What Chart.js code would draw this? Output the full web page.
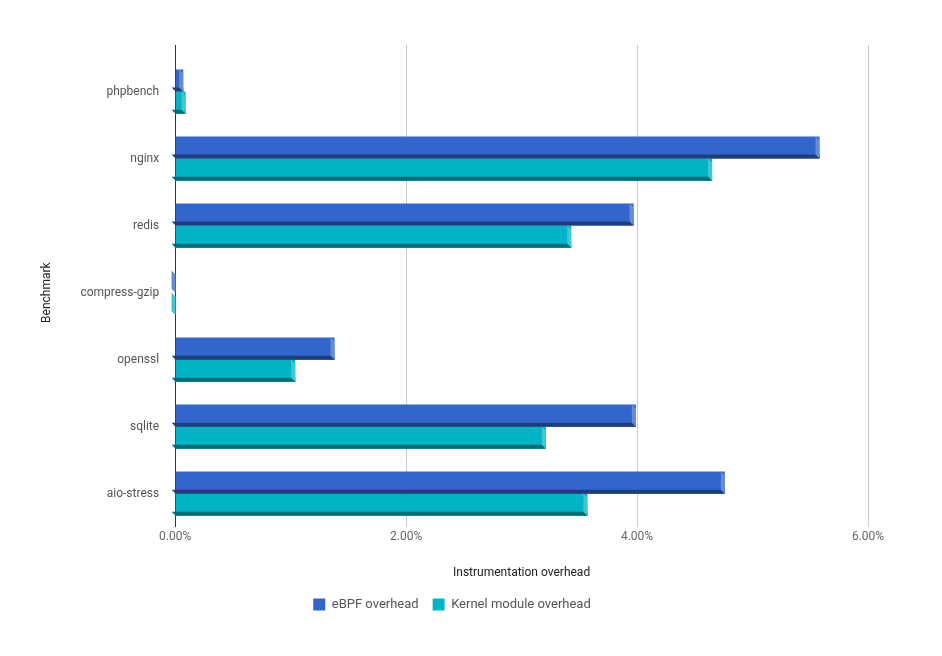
<!DOCTYPE html>
<html><head><meta charset="utf-8">
<script src="https://cdn.jsdelivr.net/npm/chart.js@4/dist/chart.umd.min.js"></script>
<style>html,body{margin:0;background:#fff}#w{width:942px;height:656px}</style>
</head><body><div id="w"><canvas id="c"></canvas></div>
<script>
const categories=["phpbench","nginx","redis","compress-gzip","openssl","sqlite","aio-stress"];
const ebpf=[0.07,5.58,3.97,0.003,1.38,3.99,4.76];
const kmod=[0.09,4.65,3.43,0.003,1.04,3.21,3.57];
const xTicks=[0,2,4,6];
function shade(hex,f){const n=parseInt(hex.slice(1),16);let r=n>>16,g=(n>>8)&255,b=n&255;
 const m=v=>Math.max(0,Math.min(255,Math.round(f<0?v*(1+f):v+(255-v)*f)));return `rgb(${m(r)},${m(g)},${m(b)})`;}
const depth={id:'depth',beforeDatasetsDraw(ch){const ctx=ch.ctx,a=ch.chartArea,x=ch.scales.x;
 ctx.save();xTicks.forEach(v=>{const px=x.getPixelForValue(v);ctx.strokeStyle=v===0?'#333':'#ccc';ctx.lineWidth=1;
  ctx.beginPath();ctx.moveTo(Math.round(px)+0.5,a.top-13);ctx.lineTo(Math.round(px)+0.5,a.top);ctx.stroke();});ctx.restore();},
 afterDatasetsDraw(ch){const ctx=ch.ctx;
 ch.data.datasets.forEach((ds,i)=>{ch.getDatasetMeta(i).data.forEach(el=>{
  const d=4,top=el.y-el.height/2,bot=el.y+el.height/2,l=el.base,r=el.x;
  ctx.save();
  ctx.fillStyle=shade(ds.backgroundColor,-0.4);
  ctx.beginPath();ctx.moveTo(l-d,bot-d);ctx.lineTo(r,bot-d);ctx.lineTo(r,bot);ctx.lineTo(l,bot);ctx.closePath();ctx.fill();
  ctx.fillStyle=shade(ds.backgroundColor,0.25);
  ctx.beginPath();ctx.moveTo(r-d,top);ctx.lineTo(r,top+d);ctx.lineTo(r,bot);ctx.lineTo(r-d,bot-d);ctx.closePath();ctx.fill();
  ctx.restore();});});}};
new Chart(document.getElementById('c'),{type:'bar',
 data:{labels:categories,datasets:[
  {label:'eBPF overhead',data:ebpf,backgroundColor:'#3366CC'},
  {label:'Kernel module overhead',data:kmod,backgroundColor:'#00B4C6'}]},
 options:{indexAxis:'y',responsive:true,maintainAspectRatio:false,animation:false,
  layout:{padding:{left:36,right:74,top:58,bottom:35}},
  datasets:{bar:{barPercentage:1,categoryPercentage:0.66}},
  plugins:{legend:{position:'bottom',labels:{boxWidth:12,boxHeight:12,font:{family:'Roboto',size:13},color:'#555',padding:14}},tooltip:{enabled:false}},
  scales:{
   x:{min:0,max:6,afterBuildTicks:a=>{a.ticks=xTicks.map(v=>({value:v}));},
    ticks:{callback:v=>v.toFixed(2)+'%',font:{family:'Roboto',size:12},color:'#666'},
    grid:{color:c=>c.tick&&c.tick.value===0?'#333':'#ccc',drawTicks:false},border:{display:false},
    title:{display:true,text:'Instrumentation overhead',font:{family:'Roboto',size:12},color:'#222',padding:{top:18}}},
   y:{grid:{display:false},border:{display:false},
    ticks:{font:{family:'Roboto',size:12},color:'#555',padding:8},
    title:{display:true,text:'Benchmark',font:{family:'Roboto',size:12},color:'#222',padding:{bottom:18}}}}},
 plugins:[depth]});
</script></body></html>
